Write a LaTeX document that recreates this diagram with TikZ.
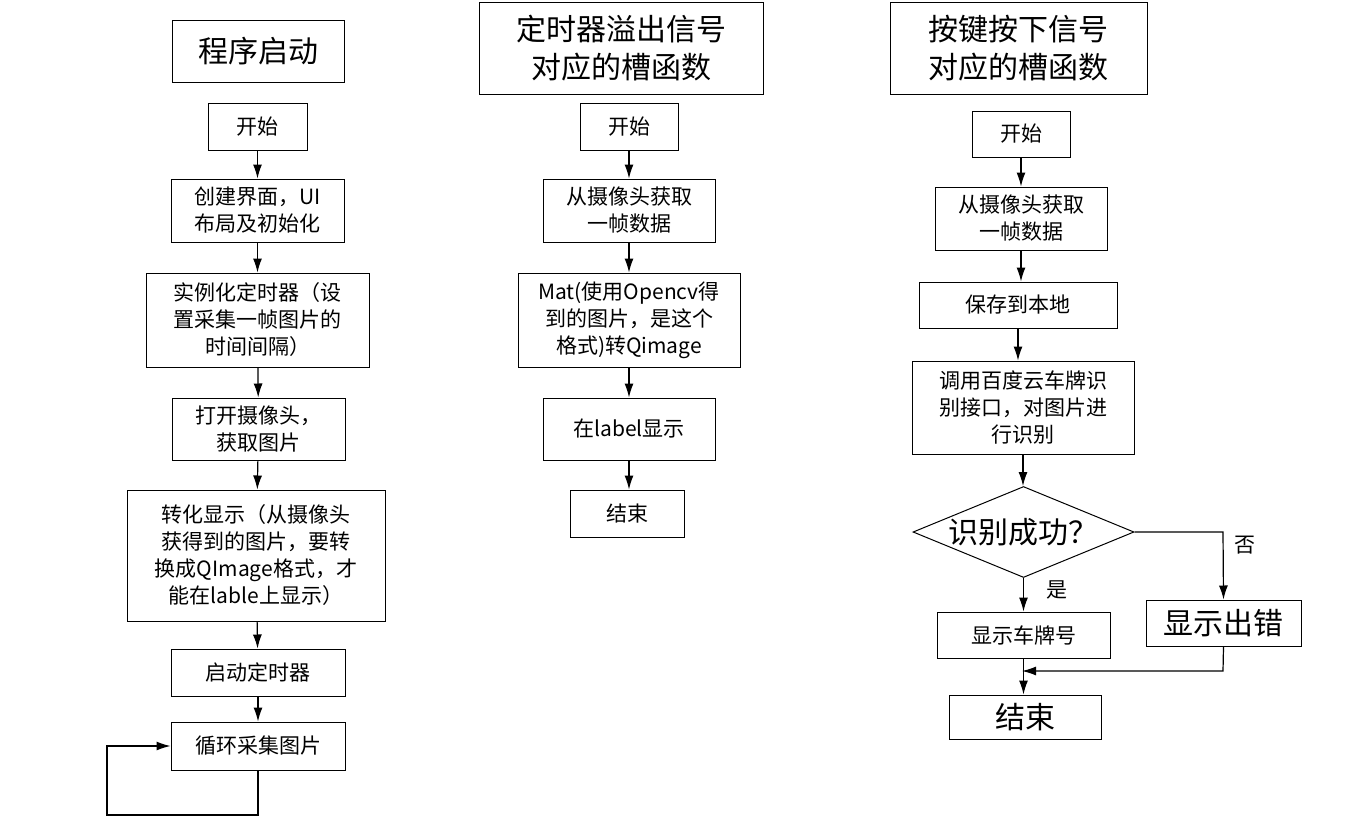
\documentclass[tikz,border=0pt]{standalone}
\usepackage{fontspec}
\setmainfont{Noto Sans CJK SC}
\usetikzlibrary{arrows.meta,shapes.geometric}
\begin{document}
\begin{tikzpicture}[x=1pt,y=-1pt,
  box/.style={draw,line width=1pt,align=center,inner sep=0pt,font=\fontsize{21}{27}\selectfont},
  big/.style={font=\fontsize{30}{38}\selectfont},
  arr/.style={line width=1.2pt,-{Latex[length=14pt,width=9pt]}},
  ln/.style={line width=1.2pt},
  lab/.style={font=\fontsize{21}{26}\selectfont}]
\useasboundingbox (0,0) rectangle (1359,827);
\newcommand{\bx}[6]{\node[box,#6,minimum width=#3-#2,minimum height=#5-#4] (#1) at ({(#2+#3)/2},{(#4+#5)/2}) {};}
% left
\node[box,big,minimum width=172,minimum height=62] (lt) at (258,51) {程序启动};
\node[box,minimum width=99,minimum height=47] (l1) at (257.5,126.5) {开始};
\node[box,minimum width=173,minimum height=63] (l2) at (257.5,210.5) {创建界面，UI\\布局及初始化};
\node[box,minimum width=223,minimum height=94] (l3) at (257.5,320) {实例化定时器（设\\置采集一帧图片的\\时间间隔）};
\node[box,minimum width=173,minimum height=62] (l4) at (258.5,429) {打开摄像头，\\获取图片};
\node[box,minimum width=258,minimum height=131] (l5) at (256,555.5) {转化显示（从摄像头\\获得到的图片，要转\\换成QImage格式，才\\能在lable上显示）};
\node[box,minimum width=174,minimum height=47] (l6) at (258,672.5) {启动定时器};
\node[box,minimum width=174,minimum height=48] (l7) at (258,746) {循环采集图片};
\draw[arr] (l1) -- (l2);
\draw[arr] (l2) -- (l3);
\draw[arr] (l3) -- (l4);
\draw[arr] (l4) -- (l5);
\draw[arr] (l5) -- (l6);
\draw[arr] (l6) -- (l7);
\coordinate (c1) at (258,815);
\coordinate (c2) at (107,815);
\coordinate (c3) at (107,746);
\draw[arr] (l7.south) -- (c1) -- (c2) -- (c3) -- (l7.west);
% middle
\node[box,big,minimum width=284,minimum height=92] (mt) at (621,48) {定时器溢出信号\\对应的槽函数};
\node[box,minimum width=98,minimum height=47] (m1) at (629,126.5) {开始};
\node[box,minimum width=172,minimum height=63] (m2) at (629,210.5) {从摄像头获取\\一帧数据};
\node[box,minimum width=222,minimum height=94] (m3) at (629,320) {Mat(使用Opencv得\\到的图片，是这个\\格式)转Qimage};
\node[box,minimum width=172,minimum height=62] (m4) at (629,429) {在label显示};
\node[box,minimum width=114,minimum height=47] (m5) at (627,513.5) {结束};
\draw[arr] (m1) -- (m2);
\draw[arr] (m2) -- (m3);
\draw[arr] (m3) -- (m4);
\draw[arr] (m4.south) -- (m4.south|-m5.north);
% right
\node[box,big,minimum width=257,minimum height=92] (rt) at (1018.5,48) {按键按下信号\\对应的槽函数};
\node[box,minimum width=98,minimum height=46] (r1) at (1021,134) {开始};
\node[box,minimum width=172,minimum height=63] (r2) at (1021,218.5) {从摄像头获取\\一帧数据};
\node[box,minimum width=198,minimum height=46] (r3) at (1018,305) {保存到本地};
\node[box,minimum width=222,minimum height=93] (r4) at (1023,407.5) {调用百度云车牌识\\别接口，对图片进\\行识别};
\node[draw,line width=1pt,diamond,aspect=2.43,minimum width=221,minimum height=91,inner sep=0pt,big] (d) at (1023.5,532) {识别成功？};
\node[box,minimum width=173,minimum height=46] (r5) at (1023.5,635) {显示车牌号};
\node[box,big,minimum width=155,minimum height=46] (r6) at (1223.5,623) {显示出错};
\node[box,big,minimum width=152,minimum height=44] (r7) at (1025,717) {结束};
\draw[arr] (r1) -- (r2);
\draw[arr] (r2.south) -- (r2.south|-r3.north);
\draw[arr] (r3.south) -- (r3.south|-r4.north);
\draw[arr] (r4.south) -- (r4.south|-d.north);
\draw[arr] (d.south) -- (d.south|-r5.north);
\coordinate (n1) at (1223,532);
\draw[arr] (d.east) -- (n1) -- (r6.north);
\coordinate (e1) at (1223,671);
\coordinate (e2) at (1022,671);
\draw[arr] (r6.south) -- (e1) -- (e2);
\draw[arr] (r5.south) -- (r5.south|-r7.north);
\node[lab] (yes) at (1057,590) {是};
\node[lab] (no) at (1245,545) {否};
\end{tikzpicture}
\end{document}
